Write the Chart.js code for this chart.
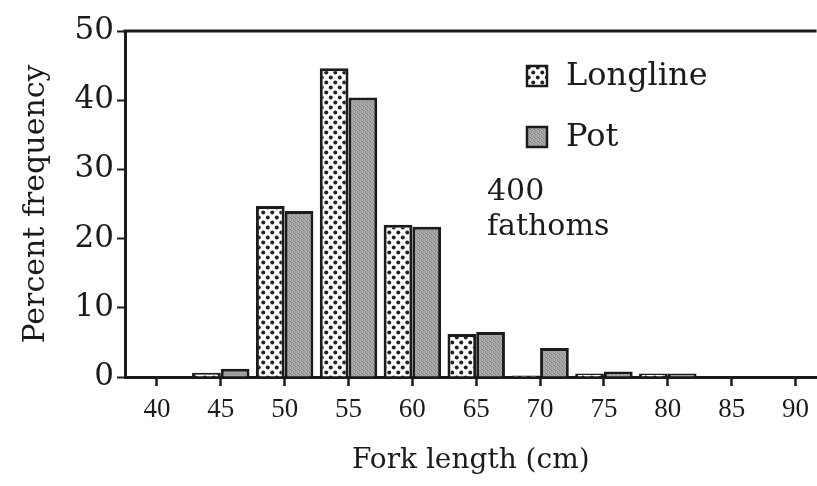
<!DOCTYPE html>
<html>
<head>
<meta charset="utf-8">
<title>Fork length distribution</title>
<script src="https://cdn.jsdelivr.net/npm/chart.js@4"></script>
<style>
  html, body { margin: 0; padding: 0; background: #fff; overflow: hidden; }
  canvas { display: block; }
</style>
</head>
<body>
<canvas id="lengthChart" width="817" height="486"></canvas>
<script>
// fork length classes (cm) and percent frequency by gear
var forkLengths = [40, 45, 50, 55, 60, 65, 70, 75, 80, 85, 90];
var longline = [0, 0.6, 24.7, 44.6, 22.0, 6.2, 0.2, 0.5, 0.5, 0, 0];
var pot = [0, 1.2, 24.0, 40.4, 21.7, 6.5, 4.2, 0.8, 0.5, 0, 0];
var yTicks = [0, 10, 20, 30, 40, 50];
var depthNote = ['400', 'fathoms'];

var ink = '#1b1b1b';

// white with staggered black dots
dotPattern = function (ctx) {
    var c = document.createElement('canvas');
    c.width = 9;
    c.height = 10;
    var p = c.getContext('2d');
    p.fillStyle = '#fff';
    p.fillRect(0, 0, 9, 10);
    p.fillStyle = '#222';
    [[2.25, 2.5], [6.75, 7.5]].forEach(function (d) {
        p.beginPath();
        p.arc(d[0], d[1], 2, 0, Math.PI * 2);
        p.fill();
    });
    return ctx.createPattern(c, 'repeat');
}

// mottled grey stipple
greyPattern = function (ctx) {
    var shades = [
        '#a4a4a4', '#8e8e8e', '#b0b0b0', '#999999',
        '#b6b6b6', '#9c9c9c', '#888888', '#acacac',
        '#939393', '#b2b2b2', '#a0a0a0', '#8a8a8a',
        '#aaaaaa', '#969696', '#b4b4b4', '#9e9e9e'
    ];
    var c = document.createElement('canvas');
    c.width = 4;
    c.height = 4;
    var p = c.getContext('2d');
    for (var i = 0; i < 16; i++) {
        p.fillStyle = shades[i];
        p.fillRect(i % 4, Math.floor(i / 4), 1, 1);
    }
    return ctx.createPattern(c, 'repeat');
}

// frame line along the top, legend boxes and the depth note
var decorations = {
    id: 'decorations',
    afterDatasetsDraw: function (chart) {
        var ctx = chart.ctx;
        var area = chart.chartArea;
        ctx.save();
        ctx.strokeStyle = ink;
        ctx.lineWidth = 3;
        ctx.beginPath();
        ctx.moveTo(area.left - 1.5, area.top);
        ctx.lineTo(area.right, area.top);
        ctx.stroke();

        ctx.font = '32px "DejaVu Serif"';
        ctx.textBaseline = 'middle';
        ctx.textAlign = 'left';
        chart.data.datasets.forEach(function (ds, i) {
            var y = 76 + i * 61;
            ctx.fillStyle = ds.backgroundColor;
            ctx.fillRect(527, y - 10, 20, 20);
            ctx.lineWidth = 2.5;
            ctx.strokeStyle = ink;
            ctx.strokeRect(527, y - 10, 20, 20);
            ctx.fillStyle = ink;
            ctx.fillText(ds.label, 566, y + 1);
        });

        ctx.font = '30px "DejaVu Serif"';
        ctx.textBaseline = 'alphabetic';
        ctx.fillText(depthNote[0], 487, 200);
        ctx.fillText(depthNote[1], 487, 235);
        ctx.restore();
    }
};

var ctx = document.getElementById('lengthChart').getContext('2d');

var points = function (values) {
    return forkLengths.map(function (x, i) {
        return { x: x, y: values[i] };
    });
};

new Chart(ctx, {
    type: 'bar',
    data: {
        datasets: [{
            label: 'Longline',
            data: points(longline),
            backgroundColor: dotPattern(ctx),
            borderColor: ink,
            borderWidth: 3
        }, {
            label: 'Pot',
            data: points(pot),
            backgroundColor: greyPattern(ctx),
            borderColor: ink,
            borderWidth: 3
        }]
    },
    options: {
        responsive: false,
        animation: false,
        layout: { padding: { top: 31, right: 0, left: 8, bottom: 8 } },
        datasets: {
            bar: { categoryPercentage: 0.9, barPercentage: 1.0, grouped: true }
        },
        plugins: {
            legend: { display: false },
            tooltip: { enabled: false }
        },
        scales: {
            x: {
                type: 'linear',
                offset: false,
                min: 37.5,
                max: 91.65,
                afterBuildTicks: function (scale) {
                    scale.ticks = forkLengths.map(function (v) { return { value: v }; });
                },
                afterFit: function (scale) {
                    scale.height = 486 - 377 - 8;
                },
                grid: {
                    offset: false,
                    drawOnChartArea: false,
                    drawTicks: true,
                    tickLength: 9,
                    tickWidth: 2.5,
                    tickColor: ink
                },
                border: { display: true, color: ink, width: 3 },
                ticks: {
                    autoSkip: false,
                    maxRotation: 0,
                    color: ink,
                    padding: 8,
                    font: { family: '"Liberation Serif"', size: 27 }
                },
                title: {
                    display: true,
                    text: 'Fork length (cm)',
                    color: ink,
                    padding: { top: 7, bottom: 0 },
                    font: { family: '"DejaVu Serif"', size: 28 }
                }
            },
            y: {
                min: 0,
                max: 50,
                afterBuildTicks: function (scale) {
                    scale.ticks = yTicks.map(function (v) { return { value: v }; });
                },
                afterFit: function (scale) {
                    scale.width = 125 - 8;
                },
                grid: {
                    drawOnChartArea: false,
                    drawTicks: true,
                    tickLength: 8,
                    tickWidth: 2,
                    tickColor: ink
                },
                border: { display: true, color: ink, width: 3 },
                ticks: {
                    color: ink,
                    padding: 3,
                    font: { family: '"DejaVu Serif"', size: 31 }
                },
                title: {
                    display: true,
                    text: 'Percent frequency',
                    color: ink,
                    padding: { top: 10, bottom: 0 },
                    font: { family: '"DejaVu Serif"', size: 30 }
                }
            }
        }
    },
    plugins: [decorations]
});
</script>
</body>
</html>
